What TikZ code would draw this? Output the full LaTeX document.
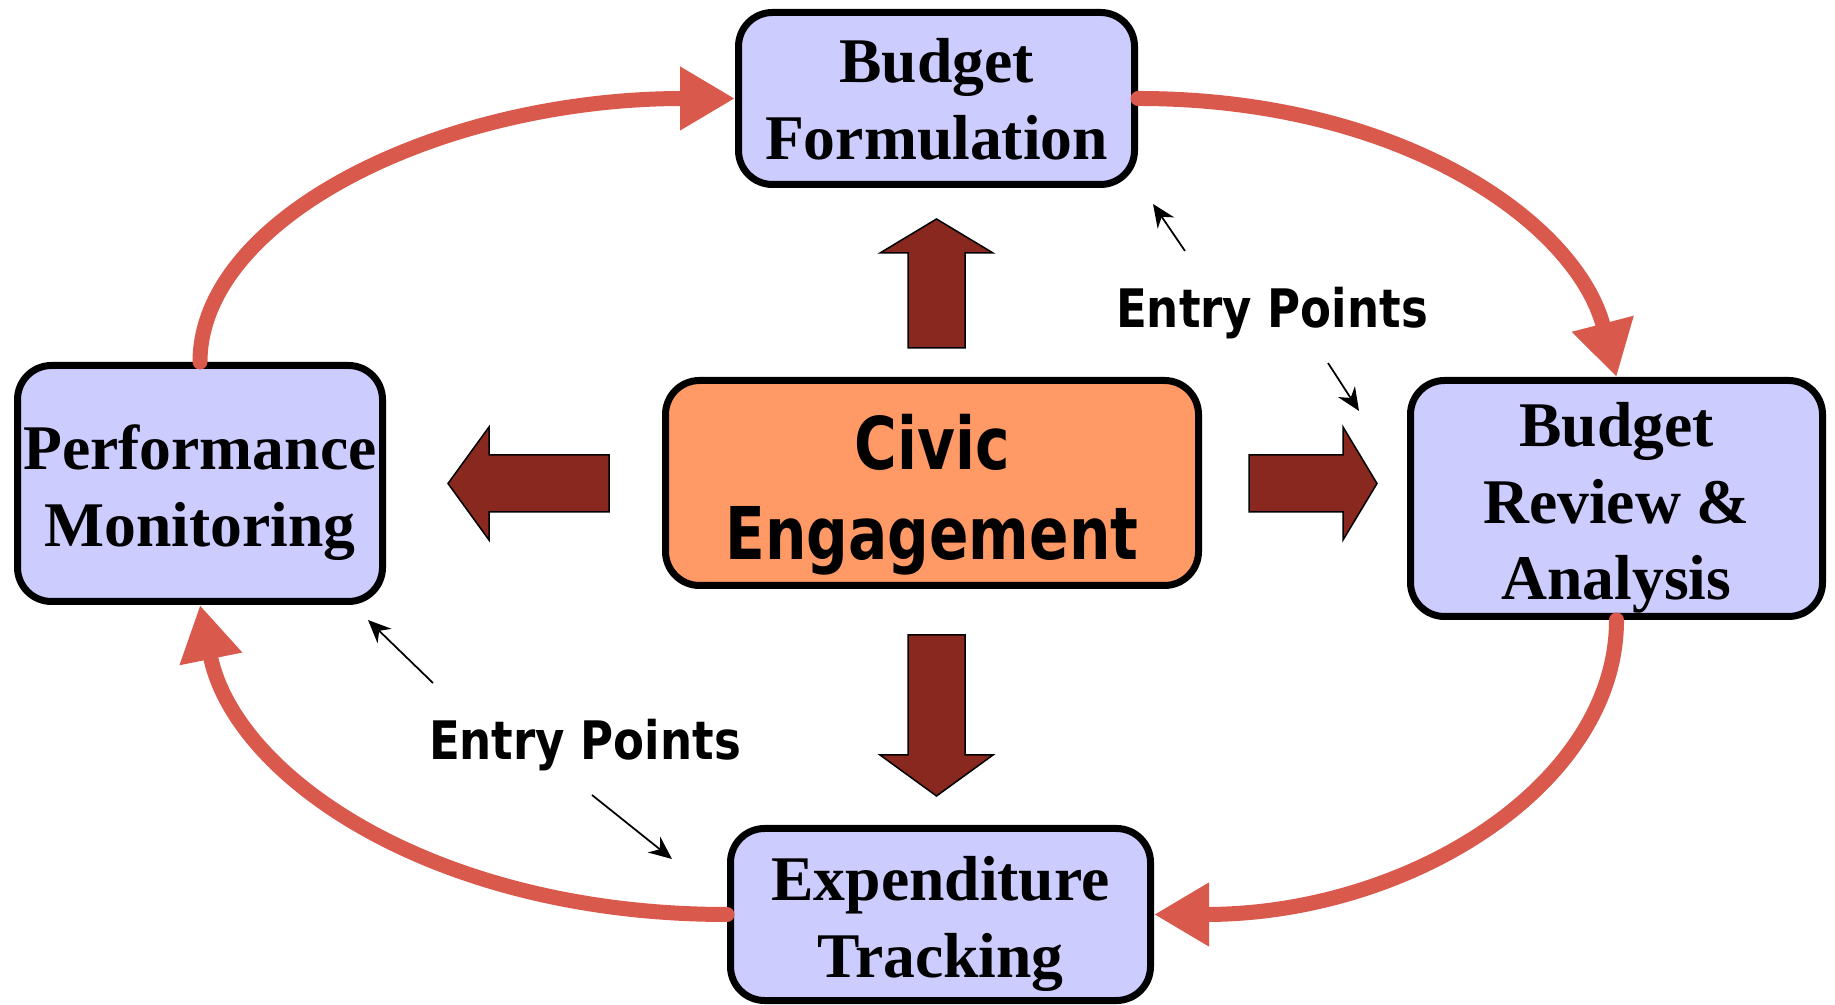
\documentclass[tikz,border=0pt]{standalone}
\usepackage{fontspec}
\setmainfont{Liberation Serif}
\newfontfamily\civicfont[FakeStretch=0.80]{DejaVu Sans}
\newfontfamily\entryfont[FakeStretch=0.85]{DejaVu Sans}
\usetikzlibrary{arrows.meta}
\definecolor{stagefill}{HTML}{CCCCFF}
\definecolor{civicfill}{HTML}{FF9966}
\definecolor{blockbrown}{HTML}{88281F}
\definecolor{flowred}{HTML}{D9594C}

\begin{document}
\begin{tikzpicture}[x=0.1mm,y=-0.1mm,
      stage/.style={draw,line width=0.7mm,rounded corners=3.4mm,fill=stagefill,align=center,
        inner sep=0pt,font=\bfseries\fontsize{18.1}{21.7}\selectfont},
      flow/.style={draw=flowred,line width=1.5mm,line cap=round,
        -{Triangle[length=5.5mm,width=6mm]}},
      entry/.style={line width=0.5pt,-{Stealth[length=2.3mm,width=2mm]}},
      entrylabel/.style={anchor=base,inner sep=0pt,font=\entryfont\bfseries\fontsize{15.1}{18}\selectfont},
      blockarrow/.style={fill=blockbrown,draw=black,line width=0.15mm}]
      \useasboundingbox (0,0) rectangle (1835,1005);
      % block arrows out of the centre
      \foreach \bx/\by/\ang/\len/\hd in {936.5/348/90/129/34,936.5/635/270/161/41,
          609/483.5/180/161/41,1249/483.5/0/128/34}
        \draw[blockarrow,shift={(\bx,\by)},rotate=\ang](0,-28.5)--(\len-\hd,-28.5)--(\len-\hd,-56.5)
          --(\len,0)--(\len-\hd,56.5)--(\len-\hd,28.5)--(0,28.5)--cycle;
      \node[stage,minimum width=39.6mm,minimum height=17.2mm](formulation)at(936.5,98.5)
        {\rule{0pt}{4.6mm}Budget\\Formulation};
      \node[stage,minimum width=36.5mm,minimum height=23.6mm](monitoring)at(200,483.5)
        {\rule{0pt}{6.3mm}Performance\\Monitoring};
      \node[stage,minimum width=41.2mm,minimum height=23.6mm](review)at(1616.5,498.5)
        {\rule{0pt}{6.3mm}Budget\\Review \&\\Analysis};
      \node[stage,minimum width=42mm,minimum height=17.2mm](tracking)at(940.5,914.5)
        {\rule{0pt}{6.3mm}Expenditure\\Tracking};
      \node[stage,fill=civicfill,minimum width=53.3mm,minimum height=20.5mm,
        font=\civicfont\bfseries\fontsize{20.7}{25.6}\selectfont](civic)at(932,483)
        {\rule{0pt}{7.8mm}Civic\\Engagement};
      % the cycle
      \draw[flow](monitoring.north)..controls +(0,-144) and +(-295,0)..(formulation.west);
      \draw[flow](formulation.east)..controls +(264,0) and +(-40,-154)..(review.north);
      \draw[flow](review.south)..controls +(0,165) and +(255,0)..(tracking.east);
      \draw[flow](tracking.west)..controls +(-291,0) and +(35,173)..(monitoring.south);
      % entry points
      \node[entrylabel](entryup)at(1272,328){Entry Points};
      \node[entrylabel](entrylow)at(585,760){Entry Points};
      \coordinate(upa)at(1185,251);\coordinate(upb)at(1153,204);
      \coordinate(upc)at(1328,363);\coordinate(upd)at(1359,411);
      \coordinate(lowa)at(433,683);\coordinate(lowb)at(368,620);
      \coordinate(lowc)at(592,795);\coordinate(lowd)at(672,859);
      \draw[entry](upa)--(upb);\draw[entry](upc)--(upd);
      \draw[entry](lowa)--(lowb);\draw[entry](lowc)--(lowd);
    \end{tikzpicture}
\end{document}
